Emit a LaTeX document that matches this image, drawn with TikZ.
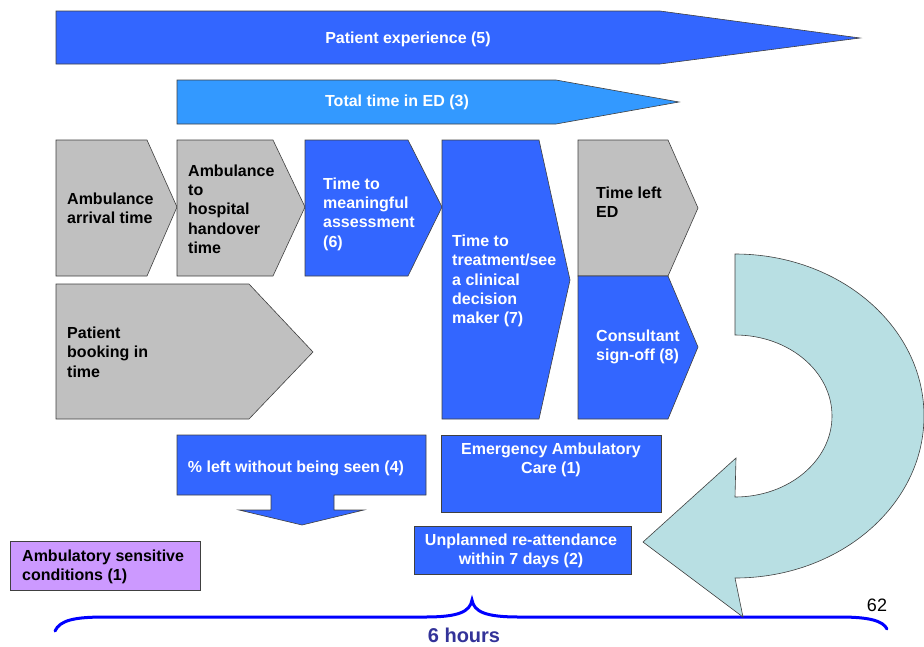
\documentclass[tikz,border=0pt]{standalone}
\usepackage{fontspec}
\setmainfont{Liberation Sans}
\definecolor{cblue}{RGB}{51,102,255}
\definecolor{lblue}{RGB}{51,153,255}
\definecolor{cgrey}{RGB}{192,192,192}
\definecolor{cpurp}{RGB}{204,153,255}
\definecolor{cteal}{RGB}{184,223,227}
\definecolor{bracec}{RGB}{0,0,255}
\definecolor{hoursc}{RGB}{51,51,153}
\begin{document}
\begin{tikzpicture}[x=1pt,y=-1pt,
  shp/.style={draw=black!75,line width=0.6pt},
  lbl/.style={font=\bfseries\fontsize{16}{19.3}\selectfont,align=left,inner sep=0pt},
  clbl/.style={font=\bfseries\fontsize{16}{19.3}\selectfont,align=center,inner sep=0pt},
  wt/.style={text=white}]
\useasboundingbox (0,0) rectangle (924,646);
% top arrows
\path[shp,fill=cblue] (56,11) -- (660,11) -- (860,38) -- (660,64) -- (56,64) -- cycle;
\path[shp,fill=lblue] (177,80) -- (556,80) -- (679,102) -- (556,124) -- (177,124) -- cycle;
% chevrons
\path[shp,fill=cgrey] (56,140) -- (147,140) -- (177,207) -- (147,276) -- (56,276) -- cycle;
\path[shp,fill=cgrey] (177,140) -- (273,140) -- (305,207) -- (273,276) -- (177,276) -- cycle;
\path[shp,fill=cblue] (305,140) -- (408,140) -- (442,207) -- (408,276) -- (305,276) -- cycle;
\path[shp,fill=cgrey] (56,284) -- (249,284) -- (313,352) -- (249,419) -- (56,419) -- cycle;
\path[shp,fill=cblue] (442,140) -- (539,140) -- (570,280) -- (539,419) -- (442,419) -- cycle;
\path[shp,fill=cgrey] (578,140) -- (668,140) -- (698,208) -- (668,276) -- (578,276) -- cycle;
\path[shp,fill=cblue] (578,276) -- (668,276) -- (698,347) -- (668,419) -- (578,419) -- cycle;
% bottom boxes
\path[shp,fill=cblue] (177,435) -- (426,435) -- (426,495) -- (334,495) -- (334,510) -- (364,510) -- (302,525) -- (239,510) -- (271,510) -- (271,495) -- (177,495) -- cycle;
\path[shp,fill=cblue] (441,435) rectangle (661,512);
\path[shp,fill=cblue] (414,526) rectangle (631,574);
\path[shp,fill=cpurp] (10,541) rectangle (200,590);
% brace
\draw[bracec,line width=3pt,line cap=round] (55,631) .. controls (60,620) and (75,617) .. (105,617) -- (425,617) .. controls (458,617) and (470,612) .. (472,600) .. controls (474,612) and (486,617) .. (519,617) -- (840,617) .. controls (870,617) and (883,621) .. (887,629);
% curved arrow
\path[shp,fill=cteal] (735,254) arc[start angle=-90,end angle=90,x radius=189,y radius=162] -- (743,617) -- (643,542) -- (736,458) -- (735,497) arc[start angle=90,end angle=-90,x radius=97,y radius=81] -- cycle;
% texts
\node[clbl,wt] (pe) at (408,39) {Patient experience (5)};
\node[clbl,wt] (tt) at (397,102) {Total time in ED (3)};
\node[lbl,anchor=west] (aa) at (67,208) {Ambulance\\arrival time};
\node[lbl,anchor=west] (ah) at (188,209) {Ambulance\\to\\hospital\\handover\\time};
\node[lbl,wt,anchor=west] (tm) at (323,214) {Time to\\meaningful\\assessment\\(6)};
\node[lbl,anchor=west] (pb) at (67,352) {Patient\\booking in\\time};
\node[lbl,wt,anchor=west] (tr) at (452,281) {Time to\\treatment/see\\a clinical\\decision\\maker (7)};
\node[lbl,anchor=west] (tl) at (596,202) {Time left\\ED};
\node[lbl,wt,anchor=west] (cs) at (596,347) {Consultant\\sign-off (8)};
\node[clbl,wt] (lw) at (296,468) {\% left without being seen (4)};
\node[clbl,wt] (ea) at (551,460) {Emergency Ambulatory\\Care (1)};
\node[clbl,wt] (ur) at (521,551) {Unplanned re-attendance\\within 7 days (2)};
\node[lbl,anchor=west] (as) at (22,567) {Ambulatory sensitive\\conditions (1)};
\node[font=\bfseries\fontsize{20}{24}\selectfont,text=hoursc,inner sep=0pt] (sh) at (464,635) {6 hours};
\node[font=\fontsize{18}{22}\selectfont,inner sep=0pt] (pg) at (877,605) {62};
\end{tikzpicture}
\end{document}
